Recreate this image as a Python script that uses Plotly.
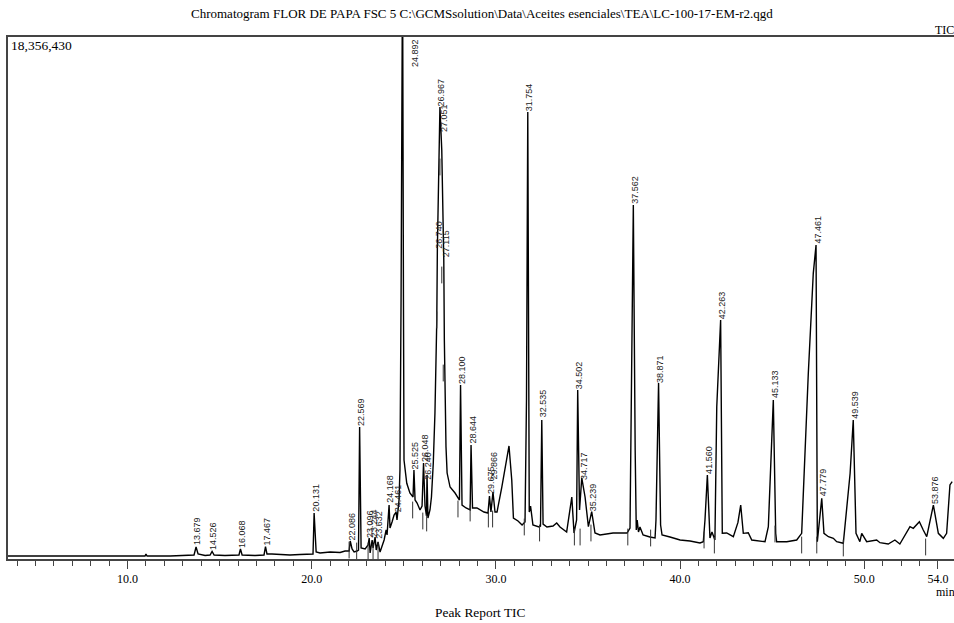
import plotly.graph_objects as go

# ---------------- data ----------------
full_scale = 18356430  # counts at 100 % of the vertical axis

# TIC trace: retention time (min) and intensity (% of full scale)
time_min = [
    3.51, 6.34, 8.51, 10.68, 10.95, 11.00, 11.06, 12.31, 13.12,
    13.61, 13.72, 13.83, 14.21, 14.48, 14.59, 14.70, 15.29, 16.05, 16.13, 16.22,
    16.92, 17.30, 17.41, 17.49, 17.57, 17.84, 18.28, 18.82, 19.36, 19.91,
    20.07, 20.13, 20.24, 20.45, 21.00, 21.54, 21.81,
    22.03, 22.09, 22.19, 22.30, 22.46, 22.54, 22.60, 22.68,
    22.90, 23.06, 23.12, 23.17, 23.28, 23.33, 23.44, 23.50, 23.60, 23.71, 23.82, 23.93, 24.04, 24.09,
    24.20, 24.25, 24.36, 24.47, 24.58, 24.63, 24.74, 24.79,
    24.85, 24.93, 24.98, 25.01, 25.16, 25.33, 25.50,
    25.55, 25.61, 25.72, 25.88, 25.99, 26.07, 26.15, 26.23,
    26.26, 26.31, 26.42, 26.50,
    26.60, 26.69, 26.79, 26.82, 26.88, 26.96,
    27.06, 27.10, 27.14, 27.17, 27.20, 27.24, 27.29, 27.35, 27.51, 27.78, 27.94,
    28.02, 28.08, 28.16, 28.38, 28.60, 28.65, 28.73, 28.97, 29.35, 29.57,
    29.65, 29.73, 29.84, 29.95, 30.06,
    30.32, 30.49, 30.71, 30.86, 30.95, 31.20, 31.42, 31.58,
    31.66, 31.73, 31.77, 31.81, 31.88, 32.01, 32.34,
    32.42, 32.49, 32.56, 32.77, 33.10, 33.30, 33.48, 33.84,
    34.12, 34.24, 34.38, 34.44, 34.54, 34.66, 34.84, 35.02,
    35.20, 35.38, 35.65, 36.36, 37.12, 37.28,
    37.36, 37.46, 37.56, 37.62, 37.67, 37.74, 37.82, 37.99,
    38.36, 38.64, 38.69, 38.83, 38.94, 39.02,
    39.45, 40.00, 40.54, 41.08,
    41.26, 41.35, 41.48, 41.57, 41.62, 41.73,
    41.89, 41.99, 42.20, 42.29, 42.53, 42.89,
    43.14, 43.29, 43.43, 43.70, 43.89, 44.61,
    44.79, 45.06, 45.19, 45.24, 45.79, 46.33, 46.60,
    46.96, 47.23, 47.38, 47.45,
    47.69, 47.81, 48.05, 48.32, 48.50, 48.86,
    49.23, 49.40, 49.55, 49.76, 49.86, 50.13, 50.67, 50.85, 51.30, 51.66, 51.93,
    52.48, 52.66, 52.99, 53.20, 53.39,
    53.75, 54.02, 54.29, 54.47, 54.65, 54.77,
]
intensity_pct = [
    0.57, 0.57, 0.57, 0.57, 0.57, 0.96, 0.57, 0.57, 0.67,
    0.77, 2.30, 0.96, 0.67, 0.77, 1.44, 0.77, 0.67, 0.77, 1.92, 0.77,
    0.67, 0.77, 0.77, 2.39, 0.96, 0.96, 0.86, 0.77, 0.86, 0.96,
    0.96, 8.81, 1.34, 1.15, 1.34, 1.25, 1.53,
    1.53, 3.45, 1.92, 1.34, 1.53, 1.72, 25.29, 2.11,
    1.92, 2.68, 4.02, 1.15, 3.64, 2.11, 4.21, 1.72, 3.26, 1.34, 2.49, 3.64, 5.56, 4.60,
    10.34, 5.94, 7.09, 8.43, 9.00, 7.47, 11.30, 17.05,
    49.62, 115.0, 49.62, 18.97, 14.50, 12.64, 11.88,
    17.05, 11.30, 10.73, 9.39, 10.15, 18.39, 10.15, 8.24,
    16.09, 7.85, 9.39, 11.88,
    18.39, 27.97, 45.78, 59.20, 74.52, 86.59,
    78.35, 71.65, 63.03, 57.28, 41.95, 27.97, 21.46, 16.47, 13.79, 12.64, 11.88,
    11.30, 33.33, 10.34, 9.77, 9.39, 21.84, 9.77, 9.77, 9.00, 8.81,
    12.07, 9.00, 12.84, 9.00, 9.00,
    13.79, 17.05, 21.65, 15.13, 7.85, 7.28, 6.51, 7.09,
    30.46, 85.63, 49.62, 9.00, 10.15, 6.51, 6.13,
    6.32, 26.63, 6.70, 6.13, 6.32, 6.90, 6.13, 5.17,
    11.88, 4.98, 7.47, 32.38, 9.39, 15.52, 11.88, 6.19,
    9.06, 4.98, 4.60, 4.98, 4.98, 5.94,
    30.46, 67.82, 20.88, 5.56, 7.47, 5.17, 6.13, 4.60,
    4.21, 4.02, 7.47, 33.72, 6.51, 4.60,
    4.21, 3.64, 3.45, 3.07,
    3.31, 7.47, 16.09, 9.39, 4.02, 5.17,
    3.64, 29.18, 45.78, 4.92, 4.98, 4.27,
    7.00, 10.34, 4.92, 5.04, 3.64, 3.31,
    6.19, 30.46, 4.92, 3.31, 3.31, 3.64, 4.92,
    35.57, 54.73, 60.15, 3.31,
    11.63, 4.92, 4.27, 3.97, 3.31, 3.01,
    16.42, 26.63, 4.92, 3.31, 4.92, 3.31, 3.64, 3.12, 2.87, 3.64, 2.87,
    6.19, 5.88, 7.15, 5.56, 4.27,
    10.34, 4.92, 3.97, 4.92, 14.18, 14.81,
]

# Peak report labels, with the apex (time, %) they are written at
peak_labels = [
    "13.679", "14.526", "16.068", "17.467", "20.131", "22.086", "22.569",
    "23.096", "23.244", "23.632", "24.168", "24.461", "24.892", "25.525",
    "26.048", "26.240", "26.740", "26.967", "27.051", "27.115", "28.100",
    "28.644", "29.675", "29.866", "31.754", "32.535", "34.502", "34.717",
    "35.239", "37.562", "38.871", "41.560", "42.263", "45.133", "47.461",
    "47.779", "49.539", "53.876",
]
peak_t = [
    13.72, 14.59, 16.13, 17.49, 20.13, 22.09, 22.60,
    23.08, 23.30, 23.57, 24.20, 24.61, 25.61, 25.55,
    26.07, 26.24, 26.82, 26.96, 27.10, 27.20, 28.08,
    28.65, 29.65, 29.84, 31.73, 32.49, 34.44, 34.66,
    35.20, 37.46, 38.83, 41.48, 42.20, 45.06, 47.38,
    47.69, 49.40, 53.75,
]
peak_pct = [
    2.40, 1.44, 1.92, 2.39, 8.81, 3.30, 25.29,
    3.80, 4.00, 3.70, 10.50, 8.81, 115.0, 17.05,
    18.39, 15.00, 59.20, 86.59, 81.60, 57.70, 33.33,
    21.84, 12.26, 15.13, 85.63, 27.01, 32.38, 15.00,
    9.00, 67.82, 33.52, 16.09, 45.78, 30.60, 60.15,
    11.88, 26.63, 10.34,
]

# integration start/end marks
mark_t = [
    13.72, 14.59, 16.13, 17.49, 20.13,
    22.03, 22.44, 23.06, 23.33, 23.60, 25.48, 26.03, 26.24,
    26.79, 26.96, 27.06, 27.14, 27.94, 28.60, 29.59, 29.82,
    31.54, 32.37, 34.26, 34.57, 35.16, 37.16, 38.40,
    41.30, 41.86, 45.15, 46.60, 47.42, 48.86, 53.33,
]
mark_pct = [
    -0.38, -0.38, -0.38, -0.38, -0.38,
    1.72, 1.53, 1.53, 1.34, 1.53, 9.39, 7.28, 6.90,
    45.78, 75.10, 54.41, 35.63, 9.58, 8.81, 7.66, 7.66,
    6.13, 4.98, 4.21, 4.21, 4.98, 4.21, 4.02,
    3.64, 2.68, 4.79, 2.68, 2.68, 2.11, 2.30,
]

tick_vals = [10, 20, 30, 40, 50, 54]
tick_text = ["10.0", "20.0", "30.0", "40.0", "50.0", "54.0"]

title_text = ("Chromatogram FLOR DE PAPA FSC 5 "
              "C:\\GCMSsolution\\Data\\Aceites esenciales\\TEA\\LC-100-17-EM-r2.qgd")

# ---------------- figure ----------------
W, H = 954, 623
ML, MR, MT, MB = 8, 0, 37, 64
PW, PH = W - ML - MR, H - MT - MB


def px_x(x):
    return (x - ML) / PW


def px_y(y):
    return (H - MB - y) / PH


serif = "Liberation Serif"
sans = "Liberation Sans"

fig = go.Figure()
fig.add_trace(go.Scatter(
    x=time_min, y=intensity_pct, mode="lines",
    line=dict(color="#000000", width=1.4),
    hoverinfo="skip", showlegend=False,
))
fig.add_trace(go.Scatter(
    x=mark_t, y=mark_pct, mode="markers",
    marker=dict(symbol="line-ns", size=12, line=dict(color="#333333", width=1)),
    cliponaxis=False, hoverinfo="skip", showlegend=False,
))

annotations = []
for lab, t, p in zip(peak_labels, peak_t, peak_pct):
    if p > 100:
        annotations.append(dict(
            x=t, y=100, xref="x", yref="y", text=lab, showarrow=False,
            textangle=-90, xanchor="center", yanchor="top", yshift=-1,
            font=dict(family=sans, size=9, color="#222222"), borderpad=0,
        ))
    else:
        annotations.append(dict(
            x=t, y=p, xref="x", yref="y", text=lab, showarrow=False,
            textangle=-90, xanchor="center", yanchor="bottom", xshift=1.5,
            font=dict(family=sans, size=9, color="#222222"), borderpad=0,
        ))

annotations += [
    dict(x=px_x(482), y=px_y(13), xref="paper", yref="paper", text=title_text,
         showarrow=False, xanchor="center", yanchor="middle",
         font=dict(family=serif, size=13, color="#000")),
    dict(x=px_x(933), y=px_y(30), xref="paper", yref="paper", text="TIC",
         showarrow=False, xanchor="left", yanchor="middle",
         font=dict(family=serif, size=12, color="#000")),
    dict(x=px_x(9), y=px_y(45), xref="paper", yref="paper",
         text=f"{full_scale:,}", showarrow=False, xanchor="left", yanchor="middle",
         font=dict(family=serif, size=13.5, color="#000")),
    dict(x=px_x(934), y=px_y(592), xref="paper", yref="paper", text="min",
         showarrow=False, xanchor="left", yanchor="middle",
         font=dict(family=serif, size=12, color="#000")),
    dict(x=px_x(480), y=px_y(612), xref="paper", yref="paper", text="Peak Report TIC",
         showarrow=False, xanchor="center", yanchor="middle",
         font=dict(family=serif, size=13.4, color="#000")),
]

fig.update_layout(
    width=W, height=H,
    margin=dict(l=ML, r=MR, t=MT, b=MB, pad=0),
    paper_bgcolor="white", plot_bgcolor="white",
    annotations=annotations,
    xaxis=dict(
        range=[3.51, 54.87], showgrid=False, zeroline=False,
        showline=True, linecolor="#444444", linewidth=2, mirror=True,
        ticks="outside", ticklen=8, tickwidth=1, tickcolor="#444444",
        tickvals=tick_vals, ticktext=tick_text,
        tickfont=dict(family=serif, size=12, color="#000"),
        minor=dict(dtick=1, tick0=0, ticks="outside", ticklen=5,
                   tickwidth=1, tickcolor="#444444", showgrid=False),
    ),
    yaxis=dict(
        range=[0, 100], showgrid=False, zeroline=False,
        showline=True, linecolor="#444444", linewidth=1.5,
        showticklabels=False, ticks="",
    ),
)

fig.write_html("out.html")
